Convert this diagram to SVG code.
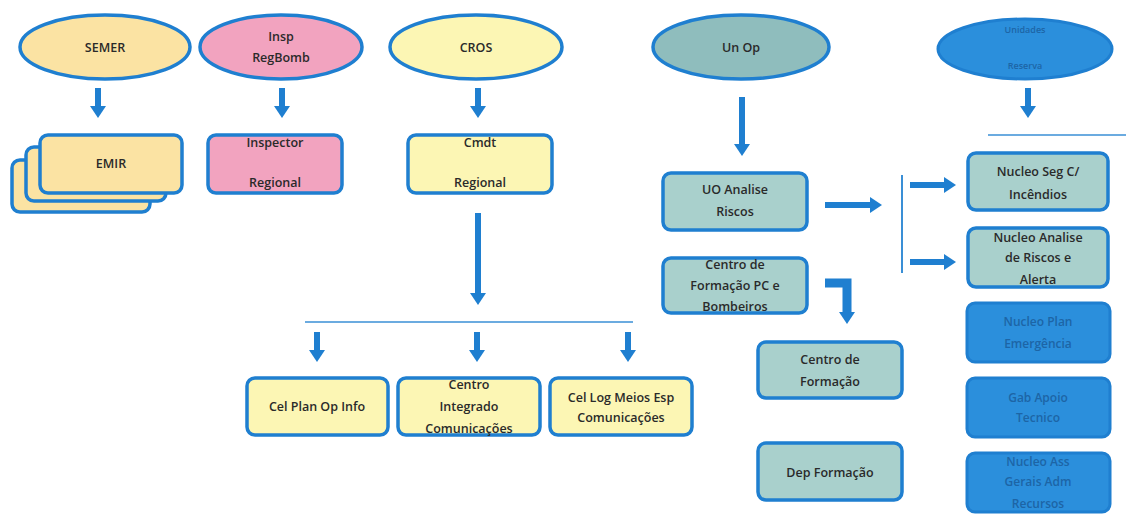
<svg xmlns="http://www.w3.org/2000/svg" width="1126" height="525" viewBox="0 0 1126 525">
<defs>
<marker id="ah" markerUnits="userSpaceOnUse" markerWidth="16" markerHeight="16" refX="2" refY="8" orient="auto">
<path d="M0,0 L12,8 L0,16 Z" fill="#1f7fd0"/>
</marker>
</defs>
<style>
.n{stroke:#1f7fd0;stroke-width:3.5}
.y{fill:#fcf6b4}
.o{fill:#fbe3a3}
.p{fill:#f2a3bf}
.t{fill:#a9d0cc}
.tt{fill:#8fbdbd}
.b{fill:#2b8fdc;stroke:#1f7fd0;stroke-width:3}
text{font-family:"Open Sans","Liberation Sans",sans-serif;font-size:12.5px;font-weight:600;fill:#2a2a2a;text-anchor:middle}
.bt{fill:#1d65a6;font-size:12px}
.c{stroke:#1f7fd0;stroke-width:6;fill:none}
.ca{stroke:#1f7fd0;stroke-width:6;fill:none;marker-end:url(#ah)}
.l{stroke:#3a8fd6;stroke-width:1.5;fill:none}
</style>
<rect width="1126" height="525" fill="#ffffff"/>

<g id="semer"><ellipse class="n o" cx="105" cy="47" rx="85" ry="32"/><text x="105" y="52">SEMER</text></g>
<g id="insp"><ellipse class="n p" cx="281" cy="47" rx="81" ry="32"/><text x="281" y="41">Insp</text><text x="281" y="62">RegBomb</text></g>
<g id="cros"><ellipse class="n y" cx="476" cy="47" rx="86" ry="32"/><text x="476" y="52">CROS</text></g>
<g id="unop"><ellipse class="n tt" cx="741" cy="47" rx="88" ry="32"/><text x="741" y="52">Un Op</text></g>
<g id="unidades"><ellipse class="b" cx="1025" cy="49" rx="87" ry="30"/><text class="bt" x="1025" y="33" style="font-size:9px">Unidades</text><text class="bt" x="1025" y="69" style="font-size:9px">Reserva</text></g>

<g id="emir">
<rect class="n o" x="12" y="160" width="138" height="52" rx="8"/>
<rect class="n o" x="26" y="147" width="140" height="54" rx="8"/>
<rect class="n o" x="40" y="135" width="142" height="58" rx="8"/>
<text x="111" y="168">EMIR</text>
</g>
<g id="inspector"><rect class="n p" x="208" y="135" width="134" height="58" rx="8"/><text x="275" y="147">Inspector</text><text x="275" y="187">Regional</text></g>
<g id="cmdt"><rect class="n y" x="408" y="135" width="144" height="58" rx="8"/><text x="480" y="147">Cmdt</text><text x="480" y="187">Regional</text></g>

<g id="celplan"><rect class="n y" x="247" y="378" width="141" height="57" rx="8"/><text x="317" y="411">Cel Plan Op Info</text></g>
<g id="centrointeg"><rect class="n y" x="398" y="378" width="142" height="57" rx="8"/><text x="469" y="389">Centro</text><text x="469" y="411">Integrado</text><text x="469" y="433">Comunicações</text></g>
<g id="cellog"><rect class="n y" x="550" y="378" width="142" height="57" rx="8"/><text x="621" y="402">Cel Log Meios Esp</text><text x="621" y="422">Comunicações</text></g>

<g id="uoanalise"><rect class="n t" x="663" y="173" width="144" height="57" rx="8"/><text x="735" y="194">UO Analise</text><text x="735" y="216">Riscos</text></g>
<g id="centropc"><rect class="n t" x="663" y="258" width="144" height="55" rx="8"/><text x="735" y="269">Centro de</text><text x="735" y="290">Formação PC e</text><text x="735" y="311">Bombeiros</text></g>
<g id="centroform"><rect class="n t" x="758" y="342" width="144" height="56" rx="8"/><text x="830" y="364">Centro de</text><text x="830" y="386">Formação</text></g>
<g id="depform"><rect class="n t" x="758" y="443" width="144" height="57" rx="8"/><text x="830" y="477">Dep Formação</text></g>

<g id="nucleoseg"><rect class="n t" x="968" y="153" width="140" height="57" rx="8"/><text x="1038" y="176">Nucleo Seg C/</text><text x="1038" y="199">Incêndios</text></g>
<g id="nucleoanalise"><rect class="n t" x="968" y="228" width="140" height="59" rx="8"/><text x="1038" y="242">Nucleo Analise</text><text x="1038" y="262">de Riscos e</text><text x="1038" y="284">Alerta</text></g>
<g id="nucleoplan"><rect class="b" x="967" y="303" width="143" height="59" rx="8"/><text class="bt" x="1038" y="326">Nucleo Plan</text><text class="bt" x="1038" y="348">Emergência</text></g>
<g id="gabapoio"><rect class="b" x="967" y="378" width="143" height="59" rx="8"/><text class="bt" x="1038" y="402">Gab Apoio</text><text class="bt" x="1038" y="422">Tecnico</text></g>
<g id="nucleoass"><rect class="b" x="967" y="453" width="143" height="59" rx="8"/><text class="bt" x="1038" y="466">Nucleo Ass</text><text class="bt" x="1038" y="486">Gerais Adm</text><text class="bt" x="1038" y="508">Recursos</text></g>

<g id="connectors">
<line class="ca" x1="98" y1="88" x2="98" y2="108"/>
<line class="ca" x1="282" y1="88" x2="282" y2="108"/>
<line class="ca" x1="478" y1="88" x2="478" y2="108"/>
<line class="ca" x1="742" y1="97" x2="742" y2="146"/>
<line class="ca" x1="1028" y1="88" x2="1028" y2="108"/>
<line class="l" x1="988" y1="135" x2="1126" y2="135"/>
<line class="ca" x1="478" y1="213" x2="478" y2="295"/>
<line class="l" x1="305" y1="322" x2="633" y2="322"/>
<line class="ca" x1="317" y1="332" x2="317" y2="352"/>
<line class="ca" x1="477" y1="332" x2="477" y2="352"/>
<line class="ca" x1="628" y1="332" x2="628" y2="352"/>
<line class="ca" x1="825" y1="205" x2="872" y2="205"/>
<line class="l" x1="902" y1="175" x2="902" y2="273" style="stroke-width:2"/>
<line class="ca" x1="910" y1="185" x2="946" y2="185"/>
<line class="ca" x1="910" y1="262" x2="946" y2="262"/>
<path d="M825,283 L847,283 L847,314" style="stroke:#1f7fd0;stroke-width:9;fill:none;marker-end:url(#ah)"/>
</g>
</svg>
